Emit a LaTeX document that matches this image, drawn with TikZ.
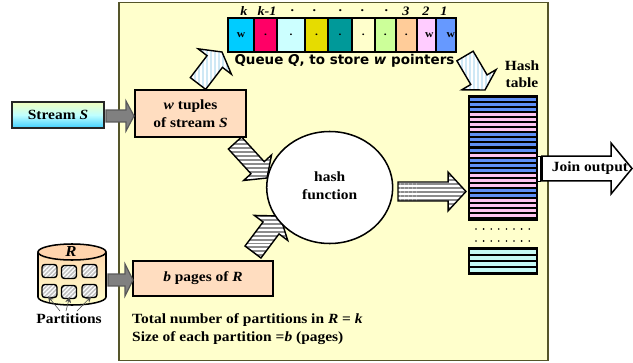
\documentclass[tikz,border=0pt]{standalone}
\usepackage{fontspec}
\setmainfont[FakeStretch=1.1]{Liberation Serif}
\newfontfamily\qfont{DejaVu Sans}
\usetikzlibrary{calc,patterns.meta,shadings,shapes.geometric,arrows.meta}
\def\u{0.03cm}
\definecolor{panel}{HTML}{FFFFCC}
\definecolor{panelline}{HTML}{55552A}
\definecolor{peach}{HTML}{FFDDC0}
\definecolor{hblue}{HTML}{5F8FF5}
\definecolor{hpink}{HTML}{FFC4F0}
\definecolor{hcyan}{HTML}{C4FAF5}
\definecolor{lightstripe}{HTML}{CFE8F5}
\tikzset{
  txt/.style={font=\bfseries\fontsize{12}{15}\selectfont, inner sep=0pt, align=center},
  box/.style={draw=black, line width=1.3pt, fill=peach, inner sep=0pt, txt},
  cell/.style={draw=black, line width=1.5pt, inner sep=0pt, font=\bfseries\fontsize{9}{9}\selectfont},
  qlab/.style={inner sep=0pt, font=\bfseries\itshape\fontsize{11}{12}\selectfont},
  grayarrow/.style={draw=black!65, line width=1pt, fill=black!50},
  hatcharrow/.style={draw=black, line width=1.2pt, preaction={fill=white},
    pattern={Lines[angle=0,distance=3.4pt,line width=1.7pt]}, pattern color=black!45},
  lightarrow/.style={draw=black, line width=1.2pt, preaction={fill=white},
    pattern={Lines[angle=90,distance=3.4pt,line width=1.7pt]}, pattern color=lightstripe},
  whitearrow/.style={draw=black, line width=1.3pt, fill=white},
  cellsq/.style={draw=black, line width=1.2pt, rounded corners=2.5pt, inner sep=0pt,
    minimum width=15*\u, minimum height=13*\u,
    preaction={fill=white}, pattern={Lines[angle=45,distance=2.6pt,line width=1.3pt]}, pattern color=black!25},
  pointer/.style={-{Stealth[length=5pt,width=5pt]}, line width=0.5pt, draw=black!70, shorten >=-2pt},
}
\newcommand\blockarrow[6]{%
  \coordinate (ba) at ($(#3)!#6*0.8504pt!(#2)$);
  \path[#1] ($(#2)!#4*0.8504pt!90:(#3)$) -- ($(ba)!#4*0.8504pt!90:(#3)$) -- ($(ba)!#5*0.8504pt!90:(#3)$)
    -- (#3) -- ($(ba)!#5*0.8504pt!-90:(#3)$) -- ($(ba)!#4*0.8504pt!-90:(#3)$) -- ($(#2)!#4*0.8504pt!-90:(#3)$) -- cycle;
}
\begin{document}
\begin{tikzpicture}[x=0.03cm,y=-0.03cm]
\useasboundingbox (0,0) rectangle (633,363);
% panel
\node[draw=panelline, line width=1.3pt, fill=panel, minimum width=429*\u, minimum height=358*\u, inner sep=0pt] (panel) at (333.5,181.5) {};

% queue
\foreach \nm/\a/\b/\c/\t in {q1/228.3/254/00CCFF/w, q2/254/277.3/FF0066/., q3/277.3/305/CCFFFF/., q4/305/328.3/E6DC00/., q5/328.3/351.7/009999/., q6/351.7/375/FFFFCC/., q7/375/395.7/CCFF99/., q8/395.7/416.7/FFCC99/., q9/416.7/436/FFCCFF/{\hspace*{5pt}w}, q10/436/456/6699FF/{\hspace*{8pt}w}}{
  \definecolor{cc}{HTML}{\c}
  \node[cell, fill=cc, minimum height=34*\u, minimum width={(\b-\a)*\u}] (\nm) at ({(\a+\b)/2},35) {\t};
}
\foreach \nm/\x/\t in {lk/244/k, lk1/267/k-1, ld1/293/., ld2/315/., ld3/341/., ld4/363/., ld5/387/., l3/406/3, l2/426/2, l1/444/1}{
  \node[qlab] (\nm) at (\x,11) {\t};
}
\node[inner sep=0pt, font=\qfont\bfseries\fontsize{11.5}{13}\selectfont] (qtext) at (344.5,61) {Queue \textit{Q}, to store \textit{w} pointers};

% stream
\node[draw=black!85, line width=1.3pt, top color=green!20!yellow!25, bottom color=cyan!75!blue!75!white, middle color=cyan!25, inner sep=0pt, txt, minimum width=92*\u, minimum height=26*\u] (stream) at (58,115) {Stream \textit{S}};
\node[box, minimum width=111*\u, minimum height=47*\u] (tuples) at (190.5,113.5) {\textit{w} tuples\\of stream \textit{S}};
\node[box, minimum width=140*\u, minimum height=35*\u] (pages) at (203,278.5) {\textit{b} pages of \textit{R}};

% hash table
\node[draw=black, line width=1.3pt, fill=black, minimum width=68*\u, minimum height=124*\u, inner sep=0pt] (htable) at (503,158) {};
\foreach \c [count=\i from 0] in {hblue,hblue,hblue,hpink,hpink,hpink,hpink,hblue,hblue,hblue,hblue,hpink,hblue,hblue,hblue,hpink,hpink,hpink,hblue,hblue,hpink,hpink,hpink,hpink}{
  \fill[\c] (470,{98+\i*5.05}) rectangle (536,{101+\i*5.05});
}
\node[draw=black, line width=1.3pt, fill=black, minimum width=68*\u, minimum height=26*\u, inner sep=0pt] (hlow) at (503,261) {};
\foreach \i in {0,...,3}{ \fill[hcyan] (470,{249.5+\i*6}) rectangle (536,{253.5+\i*6}); }
\foreach \yy in {229,241}{ \foreach \i in {0,...,7}{ \fill[black] ({476+\i*7.6},\yy) circle (0.9); } }
\node[txt] (hashlab) at (522,74) {Hash\\table};

% block arrows
\coordinate (a1s) at (106,116); \coordinate (a1e) at (134,116);
\blockarrow{grayarrow}{a1s}{a1e}{6}{15}{8}
\coordinate (a2s) at (108,280); \coordinate (a2e) at (133,280);
\blockarrow{grayarrow}{a2s}{a2e}{6}{16}{8}
\coordinate (a3s) at (235,143); \coordinate (a3e) at (267,178);
\blockarrow{hatcharrow}{a3s}{a3e}{9}{19}{14}
\coordinate (a4s) at (253,252); \coordinate (a4e) at (280,216);
\blockarrow{hatcharrow}{a4s}{a4e}{10}{21}{15}
\coordinate (a5s) at (398,191.5); \coordinate (a5e) at (466,191.5);
\blockarrow{hatcharrow}{a5s}{a5e}{9.5}{19.5}{18}
\coordinate (a6s) at (198,83.5); \coordinate (a6e) at (222,52);
\blockarrow{lightarrow}{a6s}{a6e}{9.7}{21}{12}
\coordinate (a7s) at (465,56); \coordinate (a7e) at (485,90);
\blockarrow{lightarrow}{a7s}{a7e}{9.5}{20}{12}

% hash function
\node[draw=black, line width=1.3pt, fill=white, ellipse, minimum width=126*\u, minimum height=112*\u, inner sep=0pt, txt] (hf) at (329.7,187.5) {\raisebox{3pt}{hash}\\\raisebox{3pt}{function}};

% join output
\draw[line width=0.8pt, fill=white] (537,156) rectangle (540,181);
\coordinate (j1) at (542,168.5); \coordinate (j2) at (632,168.5);
\blockarrow{whitearrow}{j1}{j2}{12.5}{25.5}{21}
\node[txt] (join) at (590,168.5) {Join output};

% cylinder
\path[draw=black, line width=1.3pt, top color=peach!90!orange, bottom color=panel] (38,253) -- (38,297) arc[start angle=180,end angle=0,x radius=34,y radius=8] -- (106,253) arc[start angle=0,end angle=-180,x radius=34,y radius=8.5] -- cycle;
\path[draw=black, line width=1.3pt, fill=peach!90!orange] (72,252) ellipse (34 and 8);
\node[inner sep=0pt, font=\itshape\bfseries\fontsize{13}{15}\selectfont] (rlab) at (71,252) {R};
\foreach \nm/\x/\y in {c1/49.5/271, c2/69/272, c3/89.5/271, c4/49.5/291, c5/69/292, c6/89.5/291}{
  \node[cellsq] (\nm) at (\x,\y) {};
}
\node[txt] (parts) at (69,319) {Partitions};
\coordinate (p1) at (60,311); \coordinate (p2) at (66,311); \coordinate (p3) at (77,311);
\draw[pointer] (p1) -- (c4.south);
\draw[pointer] (p2) -- (c5.south);
\draw[pointer] (p3) -- (c6.south);

\node[txt, align=left, anchor=north west] (note) at (132,313.5) {Total number of partitions in \textit{R} = \textit{k}\\Size of each partition =\textit{b} (pages)};
\end{tikzpicture}
\end{document}
